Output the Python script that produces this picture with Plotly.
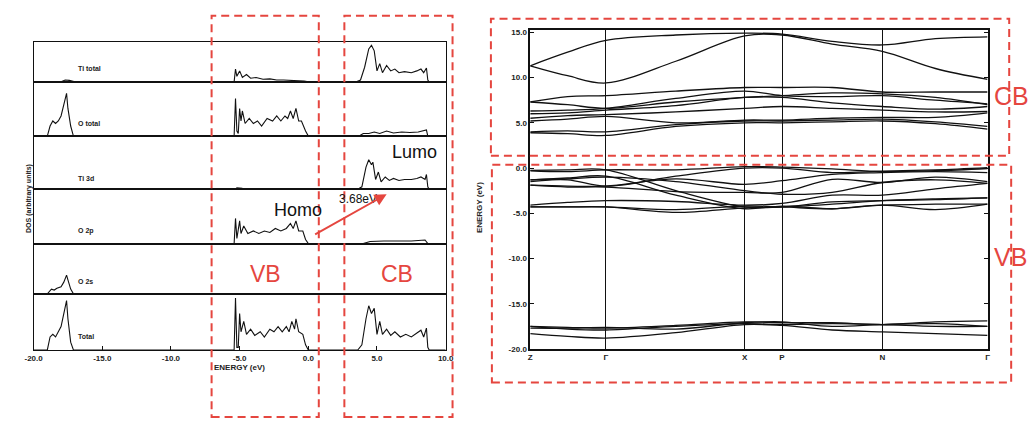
import plotly.graph_objects as go

W, H = 1029, 423
RED = "#e5463f"

# ---------------- DOS data (energy in eV, DOS normalised per panel) ----------------
dos_panels = ["Ti total", "O total", "Ti 3d", "O 2p", "O 2s", "Total"]

ti_total_E = [-20, -18.0, -17.7, -17.4, -17.0, -5.4, -5.3, -5.2, -5.0, -4.8, -4.5, -4.2, -3.8, -3.3, -2.8,
              -2.3, -1.8, -1.3, -0.8, -0.3, 0.0, 3.5, 3.8, 4.1, 4.4, 4.6, 4.8, 5.0, 5.2, 5.4, 5.7, 6.0,
              6.3, 6.6, 7.0, 7.5, 7.9, 8.2, 8.4, 8.6, 8.7, 8.8, 10]
ti_total_D = [0, 0, 0.05, 0.04, 0, 0, 0.35, 0.15, 0.3, 0.12, 0.2, 0.1, 0.12, 0.07, 0.08,
              0.05, 0.05, 0.04, 0.04, 0.02, 0, 0, 0.05, 0.4, 0.9, 1.0, 0.85, 0.3, 0.5, 0.25, 0.45, 0.3,
              0.35, 0.25, 0.28, 0.25, 0.3, 0.35, 0.25, 0.38, 0.05, 0, 0]

o_total_E = [-20, -19.0, -18.8, -18.6, -18.4, -18.2, -18.0, -17.8, -17.6, -17.5, -17.3, -17.1,
             -5.4, -5.3, -5.2, -5.1, -5.0, -4.9, -4.8, -4.6, -4.3, -4.0, -3.7, -3.4, -3.0, -2.6, -2.3,
             -2.0, -1.7, -1.5, -1.3, -1.1, -0.9, -0.7, -0.5, -0.2, 0.0,
             3.7, 4.0, 4.4, 4.8, 5.2, 5.7, 6.2, 6.8, 7.4, 8.0, 8.6, 8.7, 10]
o_total_D = [0, 0, 0.2, 0.3, 0.25, 0.3, 0.4, 0.6, 0.85, 0.55, 0.2, 0,
             0, 0.75, 0.1, 0.05, 0.55, 0.3, 0.5, 0.25, 0.35, 0.25, 0.3, 0.2, 0.35, 0.3, 0.4,
             0.3, 0.4, 0.35, 0.5, 0.35, 0.55, 0.3, 0.3, 0.1, 0,
             0, 0.05, 0.05, 0.08, 0.05, 0.1, 0.06, 0.08, 0.07, 0.08, 0.12, 0, 0]

ti3d_E = [-20, -5.3, -5.2, -4.8, -3.0, -0.5, 0.0, 3.6, 3.9, 4.2, 4.4, 4.6, 4.7, 4.9, 5.1, 5.3, 5.6,
          5.9, 6.2, 6.6, 7.0, 7.5, 7.9, 8.2, 8.5, 8.6, 8.7, 8.8, 10]
ti3d_D = [0, 0, 0.03, 0.02, 0.01, 0.01, 0, 0, 0.05, 0.45, 0.6, 0.5, 0.55, 0.2, 0.35, 0.15, 0.25,
          0.18, 0.22, 0.18, 0.2, 0.2, 0.22, 0.25, 0.2, 0.3, 0.05, 0, 0]

o2p_E = [-20, -5.4, -5.3, -5.2, -5.0, -4.9, -4.7, -4.4, -4.0, -3.6, -3.2, -2.8, -2.4, -2.0, -1.6,
         -1.3, -1.1, -0.9, -0.7, -0.4, -0.2, 0.0, 4.0, 4.5, 5.5, 6.5, 7.5, 8.5, 8.7, 10]
o2p_D = [0, 0, 0.5, 0.1, 0.45, 0.2, 0.35, 0.2, 0.25, 0.2, 0.25, 0.22, 0.3, 0.25, 0.3,
         0.4, 0.3, 0.45, 0.25, 0.25, 0.08, 0, 0, 0.04, 0.05, 0.05, 0.05, 0.07, 0, 0]

o2s_E = [-20, -19.0, -18.7, -18.5, -18.3, -18.0, -17.8, -17.6, -17.5, -17.3, -17.1, 10]
o2s_D = [0, 0, 0.1, 0.08, 0.12, 0.15, 0.25, 0.4, 0.3, 0.1, 0, 0]

total_E = [-20, -19.0, -18.8, -18.6, -18.4, -18.2, -18.0, -17.8, -17.6, -17.5, -17.3, -17.1,
           -5.4, -5.3, -5.2, -5.1, -5.0, -4.9, -4.7, -4.5, -4.2, -3.9, -3.5, -3.2, -2.8, -2.5, -2.2,
           -1.9, -1.6, -1.4, -1.2, -1.0, -0.9, -0.7, -0.4, -0.2, 0.0,
           3.6, 3.9, 4.2, 4.4, 4.6, 4.8, 5.0, 5.2, 5.4, 5.7, 6.0, 6.3, 6.7, 7.1, 7.5, 7.9, 8.2, 8.4,
           8.6, 8.7, 8.8, 10]
total_D = [0, 0, 0.25, 0.3, 0.25, 0.35, 0.45, 0.7, 0.95, 0.6, 0.15, 0,
           0, 1.0, 0.05, 0.05, 0.7, 0.35, 0.55, 0.3, 0.4, 0.28, 0.35, 0.25, 0.4, 0.35, 0.45,
           0.35, 0.45, 0.35, 0.55, 0.4, 0.6, 0.35, 0.3, 0.1, 0,
           0, 0.1, 0.6, 0.85, 0.7, 0.8, 0.3, 0.55, 0.3, 0.4, 0.28, 0.35, 0.25, 0.3, 0.25, 0.32, 0.38,
           0.25, 0.42, 0.05, 0, 0]

dos_E = [ti_total_E, o_total_E, ti3d_E, o2p_E, o2s_E, total_E]
dos_D = [ti_total_D, o_total_D, ti3d_D, o2p_D, o2s_D, total_D]

dos_ticks = [-20, -15, -10, -5, 0, 5, 10]
dos_ticktext = ["-20.0", "-15.0", "-10.0", "-5.0", "0.0", "5.0", "10.0"]

# ---------------- Band structure data ----------------
kpath_labels = ["Z", "Γ", "X", "P", "N", "Γ"]
kpath_pos = [0, 77, 218, 256, 358, 465]
# sample k points: Z, mid, Γ, mid, X, P, mid, N, mid, Γ
k_samples = [0, 38, 77, 148, 218, 256, 307, 358, 412, 465]

bands = [
    # conduction bands
    [3.9, 3.8, 3.6, 4.6, 5.0, 5.0, 5.1, 5.2, 4.9, 4.3],
    [4.0, 4.1, 4.0, 4.8, 5.2, 5.2, 5.3, 5.4, 5.1, 4.6],
    [5.2, 5.4, 5.7, 5.0, 5.3, 5.3, 5.5, 5.6, 5.6, 6.1],
    [5.5, 5.8, 5.9, 6.2, 6.6, 6.8, 6.6, 6.4, 6.2, 6.25],
    [6.0, 6.1, 6.4, 6.9, 7.8, 7.8, 7.2, 6.8, 6.5, 6.8],
    [6.3, 6.4, 6.6, 7.7, 8.5, 8.0, 7.9, 8.0, 7.5, 7.1],
    [7.3, 7.0, 6.6, 7.3, 7.8, 8.0, 8.3, 8.2, 7.8, 7.0],
    [7.3, 7.9, 8.0, 8.5, 8.9, 8.9, 8.9, 8.4, 8.4, 8.4],
    [11.3, 10.2, 9.4, 11.8, 14.6, 14.7, 13.7, 12.9, 11.0, 9.8],
    [11.3, 12.8, 14.1, 14.7, 14.9, 14.8, 14.0, 13.6, 14.3, 14.5],
    # valence bands
    [-0.25, -0.2, -0.2, -2.5, -4.3, -4.3, -4.0, -3.6, -3.4, -3.3],
    [-1.3, -1.1, -0.9, -3.0, -4.5, -4.2, -4.5, -4.1, -4.6, -4.0],
    [-1.3, -1.3, -2.0, -0.9, 0.0, 0.0, -0.5, -0.35, -0.2, 0.05],
    [-1.9, -2.0, -2.0, -1.2, -1.8, -1.4, -0.7, -0.5, -0.4, -0.5],
    [-1.9, -2.1, -2.1, -2.6, -2.7, -2.7, -1.25, -1.6, -1.0, -1.5],
    [-4.1, -3.8, -3.6, -3.7, -4.1, -3.9, -3.0, -3.0, -2.3, -1.7],
    [-4.3, -4.3, -4.3, -4.9, -4.4, -4.3, -3.75, -3.6, -3.5, -3.3],
    [-4.3, -4.3, -4.3, -4.6, -4.2, -4.3, -4.5, -4.1, -4.0, -4.0],
    [-0.3, -0.4, -0.2, -0.2, 0.15, 0.1, -0.1, -0.4, -0.3, -0.05],
    [-1.5, -1.2, -1.0, -1.5, -2.5, -2.9, -2.7, -1.6, -1.3, -1.7],
    # O 2s bands
    [-17.5, -17.6, -17.7, -17.4, -17.0, -17.1, -17.1, -17.3, -17.0, -16.9],
    [-17.5, -17.8, -17.9, -17.5, -17.2, -17.3, -17.2, -17.3, -17.5, -17.5],
    [-18.3, -18.6, -18.8, -18.2, -17.3, -17.4, -17.9, -18.1, -18.3, -18.5],
    [-17.7, -17.7, -17.6, -17.8, -17.1, -17.0, -17.5, -17.3, -17.2, -17.5],
]
band_ticks = [-20, -15, -10, -5, 0, 5, 10, 15]
band_ticktext = ["-20.0", "-15.0", "-10.0", "-5.0", "0.0", "5.0", "10.0", "15.0"]

# ---------------- layout helpers ----------------
def px(x):
    return x / W

def py(y):
    return 1 - y / H

panel_edges = [42, 82, 137, 191, 246, 297, 354]
DOS_X0, DOS_X1 = 25, 444
BAND_X0, BAND_X1 = 530, 995
BAND_Y0, BAND_Y1 = 29, 353

tick_font = dict(family="Liberation Sans, Arial", size=8, color="#222", weight="bold")

fig = go.Figure()
layout = dict(width=W, height=H, margin=dict(l=0, r=0, t=0, b=0),
              paper_bgcolor="white", plot_bgcolor="white", showlegend=False)

for i, (E, D) in enumerate(zip(dos_E, dos_D)):
    n = i + 1
    xa = "x" if n == 1 else f"x{n}"
    ya = "y" if n == 1 else f"y{n}"
    fig.add_trace(go.Scatter(x=E, y=D, mode="lines", xaxis=xa, yaxis=ya,
                             line=dict(color="#111", width=1.1), hoverinfo="skip"))
    last = (n == 6)
    layout[f"xaxis{'' if n == 1 else n}"] = dict(
        domain=[px(DOS_X0), px(DOS_X1)], range=[-20, 10], anchor=ya,
        showline=True, mirror=True, linecolor="#111", linewidth=1.0,
        showgrid=False, zeroline=False,
        tickvals=dos_ticks, ticktext=dos_ticktext,
        showticklabels=last, ticks="inside" if last else "", ticklen=4,
        tickcolor="#111", tickfont=tick_font)
    layout[f"yaxis{'' if n == 1 else n}"] = dict(
        domain=[py(panel_edges[i + 1]), py(panel_edges[i])], range=[0, 1.08], anchor=xa,
        showline=True, mirror=True, linecolor="#111", linewidth=1.2,
        showgrid=False, zeroline=False, showticklabels=False, ticks="")

for b in bands:
    fig.add_trace(go.Scatter(x=k_samples, y=b, mode="lines", xaxis="x7", yaxis="y7",
                             line=dict(color="#111", width=1.3, shape="spline", smoothing=1.0),
                             hoverinfo="skip"))

layout["xaxis7"] = dict(domain=[px(BAND_X0), px(BAND_X1)], range=[0, 465], anchor="y7",
                        tickvals=kpath_pos, ticktext=kpath_labels,
                        showgrid=True, gridcolor="#111", gridwidth=1.4,
                        showline=True, mirror=True, linecolor="#111", linewidth=1.6,
                        zeroline=False, ticks="", tickfont=tick_font)
layout["yaxis7"] = dict(domain=[py(BAND_Y1), py(BAND_Y0)], range=[-20, 15.3], anchor="x7",
                        tickvals=band_ticks, ticktext=band_ticktext,
                        showgrid=False, zeroline=False,
                        showline=True, mirror="ticks", linecolor="#111", linewidth=1.6,
                        ticks="inside", ticklen=4, tickcolor="#111", tickfont=tick_font)

annotations = []
label_y = [68, 124, 180, 233, 285, 340]
for name, yy in zip(dos_panels, label_y):
    annotations.append(dict(text=name, x=px(68), y=py(yy), xref="paper", yref="paper",
                            xanchor="left", yanchor="middle", showarrow=False,
                            font=dict(family="Liberation Sans, Arial", size=7, color="#222", weight="bold")))

annotations += [
    dict(text="DOS (arbitrary units)", x=px(14), y=py(200), textangle=-90, showarrow=False,
         xref="paper", yref="paper", font=dict(family="Liberation Sans", size=7, color="#222", weight="bold")),
    dict(text="ENERGY (eV)", x=px(206), y=py(378), xanchor="left", showarrow=False,
         xref="paper", yref="paper", font=dict(family="Liberation Sans", size=8, color="#222", weight="bold")),
    dict(text="ENERGY (eV)", x=px(478), y=py(210), textangle=-90, showarrow=False,
         xref="paper", yref="paper", font=dict(family="Liberation Sans", size=8, color="#222", weight="bold")),
    dict(text="Homo", x=px(267), y=py(212), showarrow=False, xref="paper", yref="paper",
         font=dict(family="Liberation Sans, Arial", size=18, color="#111")),
    dict(text="Lumo", x=px(412), y=py(153), showarrow=False, xref="paper", yref="paper",
         font=dict(family="Liberation Sans, Arial", size=18, color="#111")),
    dict(text="3.68eV", x=px(334), y=py(201), showarrow=False, xref="paper", yref="paper",
         font=dict(family="Liberation Sans, Arial", size=12, color="#111")),
    dict(text="VB", x=px(243), y=py(277), showarrow=False, xref="paper", yref="paper",
         font=dict(family="Liberation Sans, Arial", size=23, color=RED)),
    dict(text="CB", x=px(395), y=py(277), showarrow=False, xref="paper", yref="paper",
         font=dict(family="Liberation Sans, Arial", size=23, color=RED)),
    dict(text="CB", x=px(1000), y=py(80), xanchor="left", showarrow=False, xref="paper", yref="paper",
         font=dict(family="Liberation Sans, Arial", size=25, color=RED)),
    dict(text="VB", x=px(1000), y=py(260), xanchor="left", showarrow=False, xref="paper", yref="paper",
         font=dict(family="Liberation Sans, Arial", size=25, color=RED)),
    dict(text="", x=px(384), y=py(196), xref="paper", yref="paper", showarrow=True,
         ax=-73, ay=41, axref="pixel", ayref="pixel",
         arrowhead=2, arrowsize=1.2, arrowwidth=2, arrowcolor=RED),
]
layout["annotations"] = annotations

def dbox(x0, y0, x1, y1):
    return dict(type="rect", xref="paper", yref="paper", x0=px(x0), x1=px(x1), y0=py(y1), y1=py(y0),
                line=dict(color=RED, width=2, dash="8px,5px"), fillcolor="rgba(0,0,0,0)", layer="above")

layout["shapes"] = [
    dbox(206, 15, 315, 422),
    dbox(341, 15, 451, 422),
    dbox(490, 18, 1017, 157),
    dbox(491, 166, 1019, 387),
]

fig.update_layout(**layout)
fig.write_html("out.html")
